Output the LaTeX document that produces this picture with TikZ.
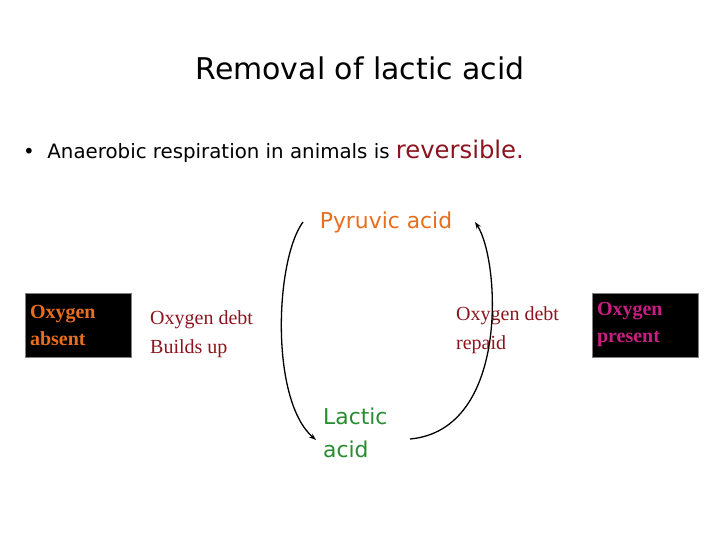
\documentclass[tikz,border=0pt]{standalone}
\usepackage{fontspec}
\usetikzlibrary{arrows.meta}
\setmainfont{Liberation Serif}
\newfontfamily\comic{DejaVu Sans}
\definecolor{orng}{RGB}{230,110,30}
\definecolor{grn}{RGB}{40,140,50}
\definecolor{dred}{RGB}{140,20,30}
\definecolor{mag}{RGB}{200,30,130}
\begin{document}
\begin{tikzpicture}[x=1pt,y=-1pt,
  box/.style={fill=black,draw=gray,line width=1pt,minimum width=106pt,minimum height=64pt,align=left,text width=96pt,font=\bfseries\fontsize{20}{27}\selectfont},
  lab/.style={align=left,anchor=west,text=dred,font=\fontsize{20}{29}\selectfont,inner sep=0pt},
  arr/.style={-{Stealth[length=7pt,width=5pt]},line width=1.3pt}]
\useasboundingbox (0,0) rectangle (720,540);
\node[font=\comic\fontsize{34}{40}\selectfont,scale=0.88] (title) at (360,68) {Removal of lactic acid};
\node[anchor=west,font=\comic\fontsize{22}{26}\selectfont,scale=0.9] (bul) at (20,151) {\textbullet\ \ Anaerobic respiration in animals is {\fontsize{27}{30}\selectfont\color{dred}reversible.}};
\node[box,text=orng] (abs) at (78,325) {Oxygen\\absent};
\node[box,text=mag] (pres) at (645,325) {Oxygen\\present};
\node[text=orng,font=\comic\fontsize{23}{26}\selectfont,scale=0.95] (pyr) at (386,222) {Pyruvic acid};
\node[text=grn,font=\comic\fontsize{23}{34}\selectfont,scale=0.95,align=left,anchor=north west,inner sep=0pt] (lac) at (323,408) {Lactic\\acid};
\node[lab] (debt1) at (150,334) {Oxygen debt\\Builds up};
\node[lab] (debt2) at (456,330) {Oxygen debt\\repaid};
\coordinate (s1) at (303,222);
\coordinate (e1) at (316,440);
\coordinate (s2) at (410,439);
\coordinate (e2) at (475,222);
\draw[arr] (s1) .. controls (275,260) and (270,400) .. (e1);
\draw[arr] (s2) .. controls (510,430) and (500,260) .. (e2);
\end{tikzpicture}
\end{document}
